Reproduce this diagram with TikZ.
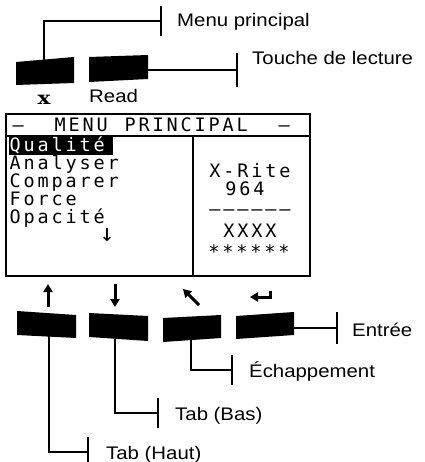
\documentclass[tikz,border=0pt]{standalone}
\usepackage{fontspec}
\usetikzlibrary{arrows.meta}
\newfontfamily\arialfont{Liberation Sans}
\newfontfamily\lcdfont{DejaVu Sans Mono}
\newfontfamily\xkeyfont{DejaVu Serif}
\newlength\lcdw \setlength\lcdw{14pt}
\def\lcd#1{\lcdloop#1\relax}
\def\lcdloop#1{\ifx#1\relax\else\makebox[\lcdw]{#1}\expandafter\lcdloop\fi}
\newcommand\lbltext[1]{\scalebox{1.12}[1]{#1}}
\tikzset{
  lbl/.style={font=\arialfont\fontsize{18.2}{20}\selectfont, inner sep=0pt, anchor=base west},
  lcdtext/.style={font=\lcdfont\fontsize{18.5}{18.5}\selectfont, inner sep=0pt},
  conn/.style={line width=1.3pt},
  keyfill/.style={fill=black},
  keyarrow/.style={line width=3pt, -{Triangle[width=9pt,length=8pt]}},
  screen/.style={line width=1.8pt},
}
\begin{document}
\begin{tikzpicture}[x=1pt,y=-1pt]
\useasboundingbox (0,0) rectangle (424,462);
% top keys
\fill[keyfill] (16,62) -- (74,57) -- (74,83) -- (16,85) -- cycle;
\fill[keyfill] (89,57) -- (148,55) -- (148,79) -- (89,82) -- cycle;
\coordinate (kx) at (44,60);
\coordinate (kread) at (148,70);
\node[font=\xkeyfont\bfseries\fontsize{18}{18}\selectfont, inner sep=0pt, anchor=base] (lx) at (44,105) {\scalebox{1.2}[1]{x}};
\node[lbl] (lread) at (89,103) {\lbltext{Read}};
% top callouts
\coordinate (tmenu) at (161,21);
\coordinate (ttouche) at (237,70);
\draw[conn] (kx) |- (tmenu);
\draw[conn] (tmenu) ++(0,-15) -- ++(0,30);
\node[lbl] (lmenu) at (177,27) {\lbltext{Menu principal}};
\draw[conn] (kread) -- (ttouche);
\draw[conn] (ttouche) ++(0,-17) -- ++(0,34);
\node[lbl] (ltouche) at (252,65) {\lbltext{Touche de lecture}};
% screen
\draw[screen] (6,114) rectangle (310,276);
\draw[screen] (6,136) -- (310,136);
\draw[screen] (193,136) -- (193,276);
\node[lcdtext, anchor=base west] (title) at (11,132) {\lcd{–~~MENU~PRINCIPAL~~–}};
\fill (9,137) rectangle (113,155);
\node[lcdtext, anchor=base west, text=white] (m1) at (8,152) {\lcd{Qualité}};
\node[lcdtext, anchor=base west] (m2) at (8,170) {\lcd{Analyser}};
\node[lcdtext, anchor=base west] (m3) at (8,188) {\lcd{Comparer}};
\node[lcdtext, anchor=base west] (m4) at (8,205) {\lcd{Force}};
\node[lcdtext, anchor=base west] (m5) at (8,223) {\lcd{Opacité}};
\node[lcdtext, font=\lcdfont\fontsize{24}{24}\selectfont] (m6) at (107,235) {↓};
\node[lcdtext, anchor=base] (r1) at (250,178) {\lcd{X-Rite}};
\node[lcdtext, anchor=base] (r2) at (245,195) {\lcd{964}};
\node[lcdtext, anchor=base] (r3) at (250,215) {\lcd{––––––}};
\node[lcdtext, anchor=base] (r4) at (250,237) {\lcd{XXXX}};
\node[lcdtext, anchor=base] (r5) at (249,258) {\lcd{******}};
% bottom key symbols
\draw[keyarrow] (48,307) -- (48,284);
\draw[keyarrow] (115,284) -- (115,307);
\draw[keyarrow] (199,305) -- (183,289);
\draw[keyarrow] (270,291) -- (270,297) -- (250,297);
% bottom keys
\fill[keyfill] (17,311) -- (76,315) -- (76,338) -- (17,335) -- cycle;
\fill[keyfill] (89,313) -- (148,316) -- (148,341) -- (89,337) -- cycle;
\fill[keyfill] (163,318) -- (221,315) -- (221,338) -- (163,342) -- cycle;
\fill[keyfill] (236,316) -- (294,312) -- (294,335) -- (236,339) -- cycle;
\coordinate (k1) at (49,336);
\coordinate (k2) at (115,339);
\coordinate (k3) at (191,339);
\coordinate (k4) at (294,328);
% bottom callouts
\coordinate (tentree) at (337,328);
\coordinate (tech) at (232,370);
\coordinate (tbas) at (158,413);
\coordinate (thaut) at (88,452);
\draw[conn] (k4) -- (tentree);
\draw[conn] (tentree) ++(0,-16) -- ++(0,32);
\node[lbl] (lentree) at (352,336) {\lbltext{Entrée}};
\draw[conn] (k3) |- (tech);
\draw[conn] (tech) ++(0,-15) -- ++(0,30);
\node[lbl] (lech) at (249,377) {\lbltext{Échappement}};
\draw[conn] (k2) |- (tbas);
\draw[conn] (tbas) ++(0,-15) -- ++(0,30);
\node[lbl] (lbas) at (175,420) {\lbltext{Tab (Bas)}};
\draw[conn] (k1) |- (thaut);
\draw[conn] (thaut) ++(0,-15) -- ++(0,30);
\node[lbl] (lhaut) at (106,459) {\lbltext{Tab (Haut)}};
\end{tikzpicture}
\end{document}
